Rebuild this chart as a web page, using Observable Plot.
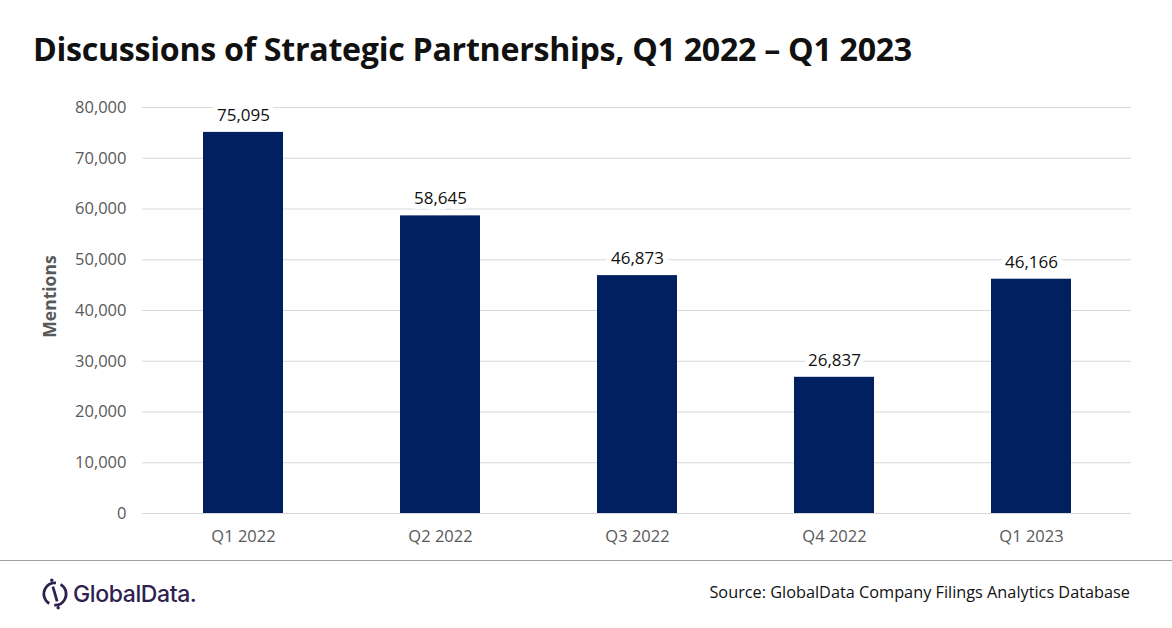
<!DOCTYPE html>
<html>
<head>
<meta charset="utf-8">
<script src="https://cdn.jsdelivr.net/npm/d3@7"></script>
<script src="https://cdn.jsdelivr.net/npm/@observablehq/plot@0.6"></script>
<style>
  html, body { margin: 0; padding: 0; background: #fff; }
  #page { position: relative; width: 1172px; height: 628px; overflow: hidden; font-family: "Open Sans", sans-serif; }
  #title { position: absolute; left: 33px; top: 27px; font-size: 32.2px; font-weight: 700; color: #111; white-space: nowrap; letter-spacing: -0.3px; }
  #chart { position: absolute; left: 0; top: 90px; }
  #rule { position: absolute; left: 0; top: 560px; width: 1172px; height: 0; border-top: 1.5px solid #a0a0a0; }
  #logo { position: absolute; left: 40px; top: 577px; display: flex; align-items: center; color: #2e2150; font-family: "Inter", sans-serif; font-size: 23px; font-weight: 500; letter-spacing: -0.4px; }
  #source { position: absolute; right: 42px; top: 581px; font-size: 16.3px; color: #111; white-space: nowrap; }
</style>
</head>
<body>
<div id="page">
  <div id="title">Discussions of Strategic Partnerships, Q1 2022 – Q1 2023</div>
  <div id="chart"></div>
  <div id="rule"></div>
  <div id="logo">
    <svg width="30" height="34" viewBox="0 0 28 32" style="margin-right:3px">
      <circle cx="14" cy="16" r="10.5" fill="none" stroke="#2e2150" stroke-width="2.6" stroke-dasharray="28 5" transform="rotate(-60 14 16)"/>
      <line x1="12" y1="9" x2="16" y2="23" stroke="#2e2150" stroke-width="2.6"/>
      <circle cx="11" cy="3" r="1.6" fill="#2e2150"/>
      <circle cx="17" cy="29" r="1.6" fill="#2e2150"/>
    </svg>
    <span>GlobalData.</span>
  </div>
  <div id="source">Source: GlobalData Company Filings Analytics Database</div>
</div>
<script>
const quarters = ["Q1 2022", "Q2 2022", "Q3 2022", "Q4 2022", "Q1 2023"];
const mentions = [75095, 58645, 46873, 26837, 46166];
const yTicks = [0, 10000, 20000, 30000, 40000, 50000, 60000, 70000, 80000];

const data = quarters.map((q, i) => ({quarter: q, value: mentions[i]}));
const fmt = d3.format(",");

const chart = Plot.plot({
  width: 1172,
  height: 465,
  marginLeft: 142,
  marginRight: 41,
  marginTop: 17,
  marginBottom: 42,
  style: {fontFamily: "Open Sans, sans-serif", fontSize: "16px", background: "transparent"},
  x: {domain: quarters, paddingInner: 0.5955, paddingOuter: 0.2975, label: null},
  y: {domain: [0, 80000], ticks: yTicks, label: null},
  marks: [
    Plot.gridY(yTicks, {stroke: "#d9d9d9", strokeOpacity: 1, strokeWidth: 1}),
    Plot.barY(data, {x: "quarter", y: "value", fill: "#002060"}),
    Plot.text(data, {x: "quarter", y: "value", text: d => fmt(d.value), dy: -17, fill: "#111", fontSize: 17, stroke: "white", strokeWidth: 10, paintOrder: "stroke"}),
    Plot.axisY({ticks: yTicks, tickSize: 0, tickPadding: 16, tickFormat: fmt, fill: "#595959", fontSize: 16.5, label: null}),
    Plot.axisX({tickSize: 0, tickPadding: 17, fill: "#595959", fontSize: 16.5, label: null}),
    Plot.text(["Mentions"], {frameAnchor: "left", dx: -92, dy: -14, rotate: -90, textAnchor: "middle", fill: "#595959", fontWeight: 700, fontSize: 17.5})
  ]
});
document.getElementById("chart").appendChild(chart);
</script>
</body>
</html>
